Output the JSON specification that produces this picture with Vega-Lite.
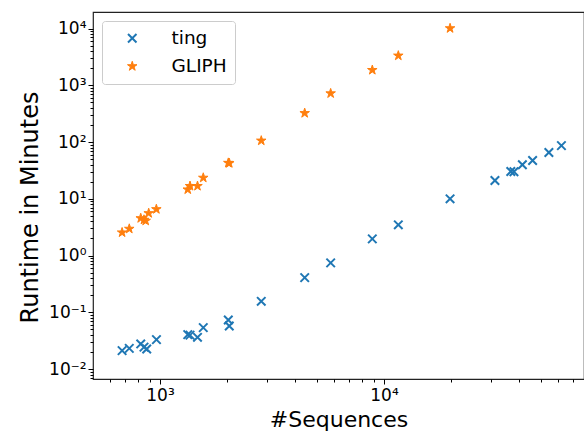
{
  "$schema": "https://vega.github.io/schema/vega-lite/v6.json",
  "autosize": {"type": "none"},
  "padding": {"left": 93, "top": 12, "right": 0, "bottom": 55},
  "width": 491,
  "height": 367,
  "background": "white",
  "config": {
    "view": {"stroke": "#222222", "strokeWidth": 1.2},
    "font": "DejaVu Sans"
  },
  "data": {
    "values": [
      {"n": 677, "runtime": 0.0211, "method": "ting"},
      {"n": 729, "runtime": 0.0231, "method": "ting"},
      {"n": 820, "runtime": 0.0277, "method": "ting"},
      {"n": 848, "runtime": 0.0243, "method": "ting"},
      {"n": 872, "runtime": 0.0226, "method": "ting"},
      {"n": 964, "runtime": 0.033, "method": "ting"},
      {"n": 1330, "runtime": 0.0404, "method": "ting"},
      {"n": 1361, "runtime": 0.0396, "method": "ting"},
      {"n": 1470, "runtime": 0.0362, "method": "ting"},
      {"n": 1560, "runtime": 0.0536, "method": "ting"},
      {"n": 2018, "runtime": 0.0733, "method": "ting"},
      {"n": 2038, "runtime": 0.0575, "method": "ting"},
      {"n": 2832, "runtime": 0.156, "method": "ting"},
      {"n": 4426, "runtime": 0.409, "method": "ting"},
      {"n": 5780, "runtime": 0.743, "method": "ting"},
      {"n": 8870, "runtime": 1.97, "method": "ting"},
      {"n": 11590, "runtime": 3.48, "method": "ting"},
      {"n": 19730, "runtime": 10.0, "method": "ting"},
      {"n": 31300, "runtime": 21.1, "method": "ting"},
      {"n": 36840, "runtime": 30.4, "method": "ting"},
      {"n": 38050, "runtime": 30.0, "method": "ting"},
      {"n": 41500, "runtime": 40.0, "method": "ting"},
      {"n": 46100, "runtime": 47.5, "method": "ting"},
      {"n": 54500, "runtime": 65.7, "method": "ting"},
      {"n": 62000, "runtime": 86.7, "method": "ting"},
      {"n": 677, "runtime": 2.55, "method": "GLIPH"},
      {"n": 729, "runtime": 2.96, "method": "GLIPH"},
      {"n": 820, "runtime": 4.55, "method": "GLIPH"},
      {"n": 848, "runtime": 4.27, "method": "GLIPH"},
      {"n": 863, "runtime": 4.1, "method": "GLIPH"},
      {"n": 890, "runtime": 5.58, "method": "GLIPH"},
      {"n": 963, "runtime": 6.56, "method": "GLIPH"},
      {"n": 1330, "runtime": 14.6, "method": "GLIPH"},
      {"n": 1361, "runtime": 16.8, "method": "GLIPH"},
      {"n": 1470, "runtime": 16.8, "method": "GLIPH"},
      {"n": 1560, "runtime": 23.5, "method": "GLIPH"},
      {"n": 2018, "runtime": 43.0, "method": "GLIPH"},
      {"n": 2038, "runtime": 42.5, "method": "GLIPH"},
      {"n": 2832, "runtime": 106, "method": "GLIPH"},
      {"n": 4426, "runtime": 324, "method": "GLIPH"},
      {"n": 5780, "runtime": 722, "method": "GLIPH"},
      {"n": 8870, "runtime": 1862, "method": "GLIPH"},
      {"n": 11590, "runtime": 3342, "method": "GLIPH"},
      {"n": 19730, "runtime": 10140, "method": "GLIPH"}
    ]
  },
  "mark": {"type": "point", "filled": true, "opacity": 1},
  "encoding": {
    "x": {
      "field": "n",
      "type": "quantitative",
      "scale": {"type": "log", "domain": [502, 78200], "nice": false, "zero": false},
      "axis": {
        "title": "#Sequences",
        "titleFontSize": 22,
        "titleFontWeight": "normal",
        "titleColor": "black",
        "titlePadding": 6,
        "values": [600, 700, 800, 900, 1000, 2000, 3000, 4000, 5000, 6000, 7000, 8000, 9000, 10000, 20000, 30000, 40000, 50000, 60000, 70000],
        "labelExpr": "datum.value == 1000 ? '10³' : datum.value == 10000 ? '10⁴' : ''",
        "labelFontSize": 17,
        "labelColor": "black",
        "labelOverlap": false,
        "labelFlush": false,
        "labelPadding": 3,
        "grid": false,
        "domain": false,
        "tickColor": "black",
        "tickWidth": 1,
        "tickSize": {"condition": {"test": "datum.value == 1000 || datum.value == 10000", "value": 5}, "value": 3}
      }
    },
    "y": {
      "field": "runtime",
      "type": "quantitative",
      "scale": {"type": "log", "domain": [0.00667, 19650], "nice": false, "zero": false},
      "axis": {
        "title": "Runtime in Minutes",
        "titleFontSize": 24,
        "titleFontWeight": "normal",
        "titleColor": "black",
        "titleX": -63,
        "titleY": 195,
        "titleBaseline": "middle",
        "values": [0.007, 0.008, 0.009, 0.01, 0.02, 0.03, 0.04, 0.05, 0.06, 0.07, 0.08, 0.09, 0.1, 0.2, 0.3, 0.4, 0.5, 0.6, 0.7, 0.8, 0.9, 1, 2, 3, 4, 5, 6, 7, 8, 9, 10, 20, 30, 40, 50, 60, 70, 80, 90, 100, 200, 300, 400, 500, 600, 700, 800, 900, 1000, 2000, 3000, 4000, 5000, 6000, 7000, 8000, 9000, 10000],
        "labelExpr": "datum.value == 0.01 ? '10⁻²' : datum.value == 0.1 ? '10⁻¹' : datum.value == 1 ? '10⁰' : datum.value == 10 ? '10¹' : datum.value == 100 ? '10²' : datum.value == 1000 ? '10³' : datum.value == 10000 ? '10⁴' : ''",
        "labelFontSize": 17,
        "labelColor": "black",
        "labelOverlap": false,
        "labelFlush": false,
        "labelPadding": 2,
        "grid": false,
        "domain": false,
        "tickColor": "black",
        "tickWidth": 1,
        "tickSize": {"condition": {"test": "indexof([0.01, 0.1, 1, 10, 100, 1000, 10000], datum.value) >= 0", "value": 5}, "value": 3}
      }
    },
    "color": {
      "field": "method",
      "type": "nominal",
      "scale": {"domain": ["ting", "GLIPH"], "range": ["#1f77b4", "#ff7f0e"]},
      "legend": {
        "orient": "none",
        "legendX": 9,
        "legendY": 9,
        "title": null,
        "padding": 8,
        "strokeColor": "#cccccc",
        "fillColor": "rgba(255,255,255,0.8)",
        "cornerRadius": 3,
        "labelFontSize": 18.5,
        "labelColor": "black",
        "symbolOffset": 13,
        "labelOffset": 30,
        "rowPadding": 9
      }
    },
    "stroke": {
      "field": "method",
      "type": "nominal",
      "scale": {"domain": ["ting", "GLIPH"], "range": ["#1f77b4", "#ff7f0e"]}
    },
    "strokeWidth": {
      "field": "method",
      "type": "nominal",
      "scale": {"domain": ["ting", "GLIPH"], "range": [2, 1]}
    },
    "size": {
      "field": "method",
      "type": "nominal",
      "scale": {"domain": ["ting", "GLIPH"], "range": [72, 100]}
    },
    "shape": {
      "field": "method",
      "type": "nominal",
      "scale": {
        "domain": ["ting", "GLIPH"],
        "range": ["M-1,-1L1,1M1,-1L-1,1", "M0,-1L0.2245,-0.309L0.951,-0.309L0.363,0.118L0.588,0.809L0,0.382L-0.588,0.809L-0.363,0.118L-0.951,-0.309L-0.2245,-0.309Z"]
      }
    }
  }
}
